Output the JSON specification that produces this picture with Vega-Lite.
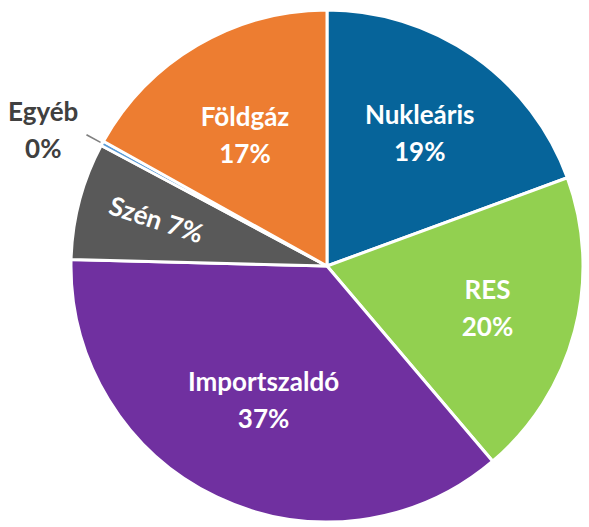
{
  "$schema": "https://vega.github.io/schema/vega-lite/v6.json",
  "width": 524,
  "height": 512,
  "autosize": {"type": "none"},
  "padding": {"left": 65, "top": 10, "right": 0, "bottom": 5},
  "background": "white",
  "config": {"view": {"stroke": null}},
  "data": {
    "values": [
      {"src": "Nukleáris", "pct": 19.4, "ord": 1, "lbl": "Nukleáris\n19%"},
      {"src": "RES", "pct": 19.4, "ord": 2, "lbl": "RES\n20%"},
      {"src": "Importszaldó", "pct": 36.6, "ord": 3, "lbl": "Importszaldó\n37%"},
      {"src": "Szén", "pct": 7.4, "ord": 4, "lbl": "Szén 7%"},
      {"src": "Egyéb", "pct": 0.3, "ord": 5, "lbl": "Egyéb\n0%"},
      {"src": "Földgáz", "pct": 16.9, "ord": 6, "lbl": "Földgáz\n17%"}
    ]
  },
  "encoding": {
    "theta": {"field": "pct", "type": "quantitative", "stack": true},
    "order": {"field": "ord", "type": "quantitative"},
    "color": {
      "field": "src",
      "type": "nominal",
      "scale": {
        "domain": ["Nukleáris", "RES", "Importszaldó", "Szén", "Egyéb", "Földgáz"],
        "range": ["#06649A", "#92D050", "#7030A0", "#595959", "#5B9BD5", "#ED7D31"]
      },
      "legend": null
    }
  },
  "layer": [
    {"mark": {"type": "arc", "outerRadius": 256, "stroke": "white", "strokeWidth": 3}},
    {
      "mark": {"type": "arc", "radius": 258, "radius2": 274, "padAngle": 0.009},
      "encoding": {
        "color": {"value": "#7f7f7f"},
        "opacity": {"condition": {"test": "datum.src === 'Egyéb'", "value": 1}, "value": 0}
      }
    },
    {
      "mark": {"type": "text", "radius": 162, "dy": -17, "font": "Lato", "fontWeight": "bold", "fontSize": 26, "lineBreak": "\n", "lineHeight": 37, "baseline": "middle", "align": "center"},
      "encoding": {
        "color": {"value": "white"},
        "text": {"condition": {"test": "datum.src === 'Nukleáris'", "field": "lbl"}, "value": ""}
      }
    },
    {
      "mark": {"type": "text", "radius": 166, "dy": -17, "font": "Lato", "fontWeight": "bold", "fontSize": 26, "lineBreak": "\n", "lineHeight": 37, "baseline": "middle", "align": "center"},
      "encoding": {
        "color": {"value": "white"},
        "text": {"condition": {"test": "datum.src === 'RES'", "field": "lbl"}, "value": ""}
      }
    },
    {
      "mark": {"type": "text", "radius": 147, "dy": -16, "font": "Lato", "fontWeight": "bold", "fontSize": 26, "lineBreak": "\n", "lineHeight": 37, "baseline": "middle", "align": "center"},
      "encoding": {
        "color": {"value": "white"},
        "text": {"condition": {"test": "datum.src === 'Importszaldó'", "field": "lbl"}, "value": ""}
      }
    },
    {
      "mark": {"type": "text", "radius": 156, "dx": -3, "dy": -13, "font": "Lato", "fontWeight": "bold", "fontSize": 26, "lineBreak": "\n", "lineHeight": 37, "baseline": "middle", "align": "center"},
      "encoding": {
        "color": {"value": "white"},
        "text": {"condition": {"test": "datum.src === 'Földgáz'", "field": "lbl"}, "value": ""}
      }
    },
    {
      "mark": {"type": "text", "radius": 177, "angle": 18, "font": "Lato", "fontWeight": "bold", "fontSize": 26, "baseline": "middle", "align": "center"},
      "encoding": {
        "color": {"value": "white"},
        "text": {"condition": {"test": "datum.src === 'Szén'", "field": "lbl"}, "value": ""}
      }
    },
    {
      "mark": {"type": "text", "radius": 313, "dx": -9, "dy": -3, "font": "Lato", "fontWeight": "bold", "fontSize": 26, "lineBreak": "\n", "lineHeight": 37, "baseline": "middle", "align": "center"},
      "encoding": {
        "color": {"value": "#404040"},
        "text": {"condition": {"test": "datum.src === 'Egyéb'", "field": "lbl"}, "value": ""}
      }
    }
  ]
}
